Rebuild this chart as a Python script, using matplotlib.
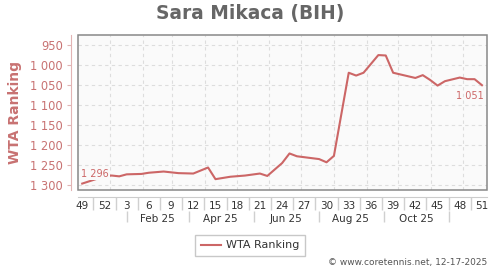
import pandas as pd
import matplotlib
matplotlib.use("Agg")
from matplotlib import pyplot as plt
from matplotlib.patches import Rectangle
from matplotlib.ticker import FuncFormatter, NullFormatter

# weekly WTA ranking (Monday of ranking week)
rank_dates = [
    "2024-12-02", "2024-12-09", "2024-12-16", "2024-12-23", "2024-12-30",
    "2025-01-06", "2025-01-13", "2025-01-27", "2025-02-03", "2025-02-17",
    "2025-02-24", "2025-03-03", "2025-03-17", "2025-03-31", "2025-04-07",
    "2025-04-21", "2025-05-05", "2025-05-19", "2025-05-26", "2025-06-09",
    "2025-06-16", "2025-06-23", "2025-07-14", "2025-07-21", "2025-07-28",
    "2025-08-11", "2025-08-18", "2025-08-25", "2025-09-08", "2025-09-15",
    "2025-09-22", "2025-10-13", "2025-10-20", "2025-10-27", "2025-11-03",
    "2025-11-10", "2025-11-24", "2025-12-01", "2025-12-08", "2025-12-15",
]
rank_values = [
    1296, 1290, 1284, 1277, 1276,
    1278, 1273, 1272, 1269, 1266,
    1268, 1270, 1271, 1256, 1285,
    1279, 1276, 1271, 1277, 1245,
    1221, 1228, 1235, 1243, 1227,
    1020, 1027, 1020, 976, 977,
    1020, 1033, 1026, 1038, 1052,
    1041, 1032, 1036, 1036, 1051,
]
y_ticks = [950, 1000, 1050, 1100, 1150, 1200, 1250, 1300]
month_labels = ["Feb 25", "Apr 25", "Jun 25", "Aug 25", "Oct 25"]

dates = pd.to_datetime(rank_dates)
red = "#cc6666"
tick_red = "#c87272"


def fmt(v):
    return f"{int(v):,}".replace(",", " ")


fig = plt.figure(figsize=(5, 2.7), dpi=100)
ax = fig.add_axes([78 / 500, 1 - 190 / 270, 409 / 500, 155 / 270])
ax.set_facecolor("#fafafa")

ax.plot(dates, rank_values, color=red, lw=1.5, zorder=3)

ax.set_ylim(1312, 926)
ax.set_xlim(pd.Timestamp("2024-11-28"), pd.Timestamp("2025-12-19 18:00"))

# grid
ax.set_yticks(y_ticks)
ax.yaxis.set_major_formatter(FuncFormatter(lambda v, p: fmt(v)))
ax.grid(axis="y", color="#dddddd", ls=(0, (3, 3)), lw=0.8)
grid_days = pd.date_range("2025-01-01", "2025-12-01", freq="MS") - pd.Timedelta(days=4)
for d in grid_days:
    ax.axvline(d, color="#dddddd", ls=(0, (3, 3)), lw=0.8, zorder=1)

# frame
for s in ["top", "right"]:
    ax.spines[s].set_visible(False)
ax.add_patch(Rectangle((0, 0), 1, 1, transform=ax.transAxes, fill=False,
                       ec="#888888", lw=1.1, zorder=5, clip_on=False))
ax.spines["left"].set_position(("outward", 5))
ax.spines["left"].set_color("#e2b4b4")
ax.spines["bottom"].set_position(("outward", 5))
ax.spines["bottom"].set_color("#cccccc")

ax.tick_params(axis="y", colors="#e2b4b4", labelcolor=tick_red, labelsize=8.3,
               length=3, pad=3)

# week row
week_pos = dates[0] + pd.to_timedelta([7 * k for k in range(0, 55, 3)], unit="D")
week_lab = [str(d.isocalendar()[1]) for d in week_pos]
sep_pos = week_pos[:-1] + pd.Timedelta(days=10.5)
ax.set_xticks(sep_pos)
ax.xaxis.set_major_formatter(NullFormatter())
ax.set_xticks(week_pos, week_lab, minor=True)
ax.tick_params(axis="x", which="major", length=9, color="#d0d0d0", width=1)
ax.tick_params(axis="x", which="minor", length=0, pad=3, labelsize=7.5,
               labelcolor="#333333")

# month row
sec = ax.secondary_xaxis(-0.135)
for s in sec.spines.values():
    s.set_visible(False)
month_sep = pd.to_datetime(["2025-01-13", "2025-03-13", "2025-05-13",
                            "2025-07-14", "2025-09-13", "2025-11-14"])
month_pos = pd.to_datetime(["2025-02-11", "2025-04-12", "2025-06-13",
                            "2025-08-13", "2025-10-14"])
sec.set_xticks(month_sep)
sec.xaxis.set_major_formatter(NullFormatter())
sec.set_xticks(month_pos, month_labels, minor=True)
sec.tick_params(which="major", length=8, color="#d0d0d0", width=1)
sec.tick_params(which="minor", length=0, pad=2.5, labelsize=7.5,
                labelcolor="#333333")

ax.set_ylabel("WTA Ranking", color=tick_red, fontsize=10, fontweight="bold",
              labelpad=6)

# first / last labels
ax.annotate(fmt(rank_values[0]), (dates[0], rank_values[0]), xytext=(-1, 3),
            textcoords="offset points", ha="left", va="bottom", color=red,
            fontsize=7, zorder=4,
            bbox=dict(boxstyle="square,pad=0.1", fc="#fafafa", ec="none"))
ax.annotate(fmt(rank_values[-1]), (dates[-1], rank_values[-1]), xytext=(1, -4),
            textcoords="offset points", ha="right", va="top", color=red,
            fontsize=7, zorder=4)

fig.suptitle("Sara Mikaca (BIH)", x=0.5, y=1 - 13 / 270, va="center",
             fontsize=13.4, fontweight="bold", color="#666666")

leg = fig.legend(["WTA Ranking"], loc="center",
                 bbox_to_anchor=(0.5, 1 - 245.5 / 270), fontsize=8,
                 fancybox=False, edgecolor="#bbbbbb", handlelength=1.8,
                 borderpad=0.5, handletextpad=0.5)
for t in leg.get_texts():
    t.set_color("#333333")

fig.text(487 / 500, 1 - 263 / 270, "\u00a9 www.coretennis.net, 12-17-2025",
         ha="right", va="center", fontsize=6.5, color="#555555")

fig.savefig("out.png", dpi=100)
